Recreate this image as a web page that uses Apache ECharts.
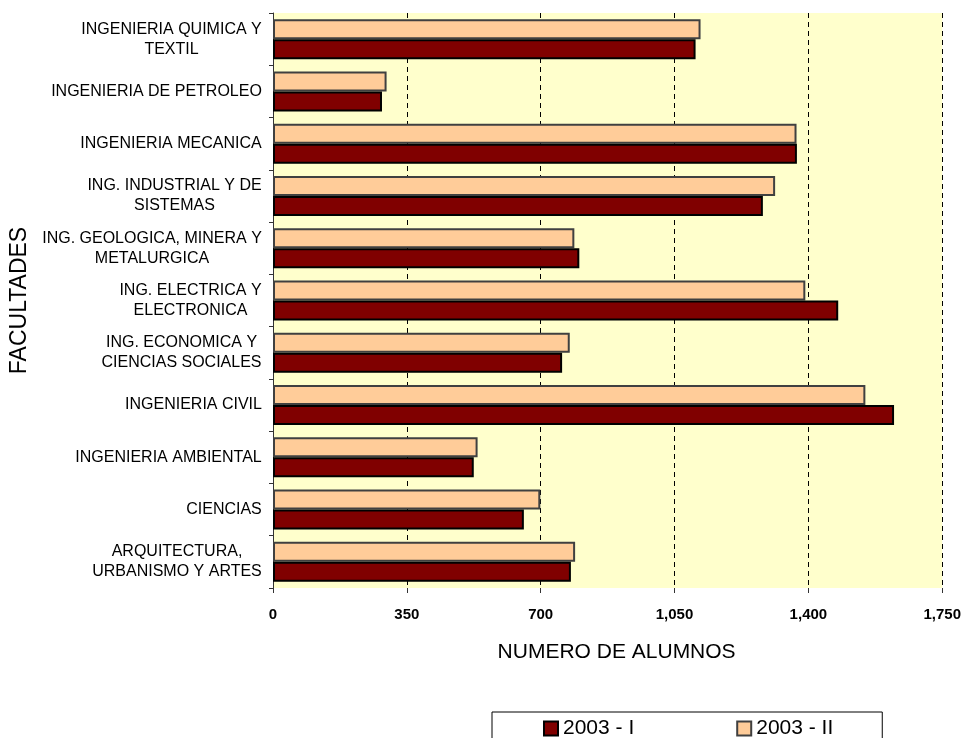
<!DOCTYPE html>
<html>
<head>
<meta charset="utf-8">
<title>Alumnos por facultad</title>
<script src="https://cdn.jsdelivr.net/npm/echarts@6/dist/echarts.min.js"></script>
<style>
  html, body { margin: 0; padding: 0; background: #fff; }
  #chart { width: 964px; height: 738px; }
</style>
</head>
<body>
<div id="chart"></div>
<script>
// categories, bottom to top (ECharts draws the first category at the bottom)
const facultades = [
  'ARQUITECTURA,\nURBANISMO Y ARTES',
  'CIENCIAS',
  'INGENIERIA AMBIENTAL',
  'INGENIERIA CIVIL',
  'ING. ECONOMICA Y\nCIENCIAS SOCIALES',
  'ING. ELECTRICA Y\nELECTRONICA',
  'ING. GEOLOGICA, MINERA Y\nMETALURGICA',
  'ING. INDUSTRIAL Y DE\nSISTEMAS',
  'INGENIERIA MECANICA',
  'INGENIERIA DE PETROLEO',
  'INGENIERIA QUIMICA Y\nTEXTIL'
]
const sem2003I  = [779, 656, 525, 1624, 756, 1478, 801, 1281, 1370, 285, 1105]
const sem2003II = [790, 699, 535, 1549, 776, 1392, 788, 1313, 1369, 297, 1118]
const xTicks = [0, 350, 700, 1050, 1400, 1750]

const FONT = 'Liberation Sans'

// width of the widest line in each label, so lines can be centred inside a right-aligned block
const ctx = document.createElement('canvas').getContext('2d')
ctx.font = '16px "' + FONT + '"'
const rich = {}
facultades.forEach((name, i) => {
  const w = Math.max(...name.split('\n').map(l => ctx.measureText(l).width))
  rich['l' + i] = { width: Math.ceil(w), align: 'center', fontSize: 16, lineHeight: 20, color: '#000', fontFamily: FONT }
})

const chart = echarts.init(document.getElementById('chart'))

const option = {
  animation: false,
  textStyle: { fontFamily: FONT },
  grid: {
    left: 273,
    right: 21,
    top: 13,
    bottom: 150,
    show: true,
    backgroundColor: '#FFFFCC',
    borderWidth: 0
  },
  legend: {
    data: ['2003 - I', '2003 - II'],
    left: 492,
    top: 712,
    padding: [6, 49, 20, 51],
    itemGap: 102,
    itemWidth: 14,
    itemHeight: 14,
    icon: 'rect',
    borderColor: '#000',
    borderWidth: 1,
    borderRadius: 0,
    textStyle: { fontSize: 21, color: '#000', fontFamily: FONT }
  },
  xAxis: {
    type: 'value',
    min: xTicks[0],
    max: xTicks[xTicks.length - 1],
    interval: xTicks[1] - xTicks[0],
    name: 'NUMERO DE ALUMNOS',
    nameLocation: 'middle',
    nameGap: 54,
    nameTextStyle: { fontSize: 21, color: '#000', padding: [0, 0, 0, 18] },
    axisLine: { lineStyle: { color: '#333', width: 1 } },
    axisTick: { show: true, length: 5, lineStyle: { color: '#333' } },
    axisLabel: {
      margin: 19,
      fontSize: 15,
      fontWeight: 'bold',
      color: '#000',
      formatter: v => v.toLocaleString('en-US')
    },
    splitLine: {
      show: true,
      lineStyle: { color: '#000', type: [5, 4], width: 1 }
    }
  },
  yAxis: {
    type: 'category',
    data: facultades,
    name: 'FACULTADES',
    nameLocation: 'middle',
    nameGap: 242,
    nameRotate: 90,
    nameTextStyle: { fontSize: 23, color: '#000' },
    axisLine: { lineStyle: { color: '#333', width: 1 } },
    axisTick: { show: true, length: 4, lineStyle: { color: '#333' } },
    axisLabel: {
      margin: 11,
      interval: 0,
      formatter: (value, index) => value.split('\n').map(l => '{l' + index + '|' + l + '}').join('\n'),
      rich: rich
    }
  },
  // 2003 - II listed first so it sits above 2003 - I inside each category
  series: [
    {
      name: '2003 - II',
      type: 'bar',
      data: sem2003II,
      barWidth: 20,
      barGap: '0%',
      itemStyle: { color: '#FFCC99', borderColor: '#404040', borderWidth: 2 }
    },
    {
      name: '2003 - I',
      type: 'bar',
      data: sem2003I,
      barWidth: 20,
      barGap: '0%',
      itemStyle: { color: '#800000', borderColor: '#000', borderWidth: 2 }
    }
  ]
}

chart.setOption(option)
</script>
</body>
</html>
